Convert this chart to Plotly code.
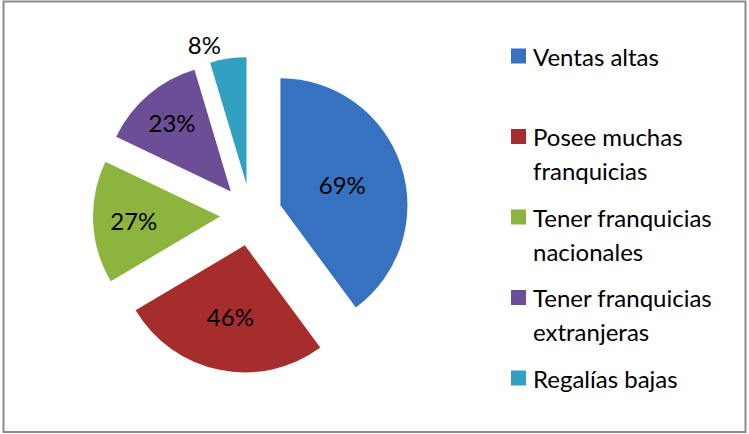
import textwrap
import plotly.graph_objects as go

# ---- data ----
categories = ["Ventas altas", "Posee muchas franquicias", "Tener franquicias nacionales",
              "Tener franquicias extranjeras", "Regalías bajas"]
values = [69, 46, 27, 23, 8]
value_labels = [f"{v}%" for v in values]
colors = ["#3672BF", "#A52E2C", "#8DB43F", "#6C4E96", "#31A1C2"]

W, H = 749, 434
FONT = "Lato"
FS = 24

def px_x(x):
    return x / W

def px_y(y):
    return 1 - y / H

fig = go.Figure()
fig.add_trace(go.Pie(
    labels=categories,
    values=values,
    text=value_labels,
    textinfo="text",
    textposition=["inside", "inside", "inside", "inside", "outside"],
    insidetextorientation="horizontal",
    sort=False,
    direction="clockwise",
    rotation=0,
    pull=[0.244] * len(values),
    marker=dict(colors=colors, line=dict(width=0)),
    textfont=dict(family=FONT, size=FS, color="black"),
    domain=dict(x=[px_x(93), px_x(409)], y=[px_y(373), px_y(57)]),
    showlegend=False,
    automargin=False,
    hoverinfo="label+text",
))

# ---- legend drawn manually (evenly spaced entries, like the original) ----
shapes = []
annotations = []
item_top = 56
item_step = 80.5
line_step = 34
for i, (lab, col) in enumerate(zip(categories, colors)):
    yc = item_top + i * item_step
    shapes.append(dict(type="rect", xref="paper", yref="paper",
                       x0=px_x(511), x1=px_x(526), y0=px_y(yc - 7.5), y1=px_y(yc + 7.5),
                       fillcolor=col, line=dict(width=0)))
    for j, line in enumerate(textwrap.wrap(lab, 18)):
        annotations.append(dict(xref="paper", yref="paper", x=px_x(531), y=px_y(yc + j * line_step),
                                xanchor="left", yanchor="middle", showarrow=False,
                                text=line, font=dict(family=FONT, size=FS, color="black")))

# chart frame
shapes.append(dict(type="rect", xref="paper", yref="paper",
                   x0=px_x(3.5), x1=px_x(745.5), y0=px_y(432), y1=px_y(1.5),
                   line=dict(color="#8C8C8C", width=2), fillcolor="rgba(0,0,0,0)"))

fig.update_layout(
    width=W, height=H,
    margin=dict(l=0, r=0, t=0, b=0, pad=0, autoexpand=False),
    paper_bgcolor="white", plot_bgcolor="white",
    showlegend=False,
    shapes=shapes, annotations=annotations,
    font=dict(family=FONT, size=FS, color="black"),
)

fig.write_html("out.html")
